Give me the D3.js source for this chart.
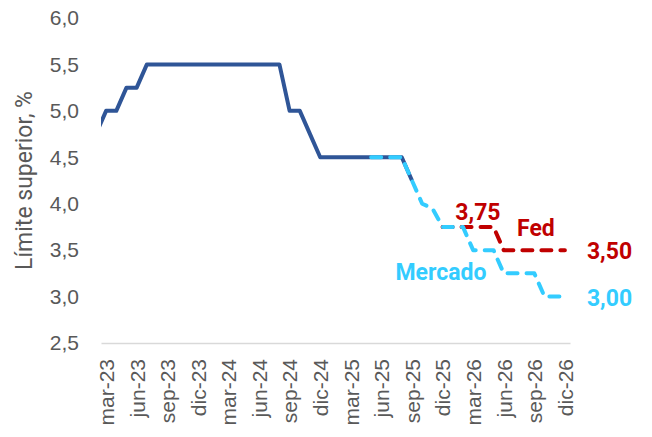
<!DOCTYPE html>
<html>
<head>
<meta charset="utf-8">
<script src="https://cdn.jsdelivr.net/npm/d3@7"></script>
<style>
    body { margin: 0; background: #fff; }
    svg { display: block; font-family: Roboto, "Liberation Sans", sans-serif; }
</style>
</head>
<body>
<div id="chart"></div>
<script>
// monthly categories, feb-23 .. dic-26 (feb-23 sits just left of the axis and is clipped)
const months = [
    "feb-23", "mar-23", "abr-23", "may-23", "jun-23", "jul-23", "ago-23", "sep-23", "oct-23", "nov-23", "dic-23",
    "ene-24", "feb-24", "mar-24", "abr-24", "may-24", "jun-24", "jul-24", "ago-24", "sep-24", "oct-24", "nov-24", "dic-24",
    "ene-25", "feb-25", "mar-25", "abr-25", "may-25", "jun-25", "jul-25", "ago-25", "sep-25", "oct-25", "nov-25", "dic-25",
    "ene-26", "feb-26", "mar-26", "abr-26", "may-26", "jun-26", "jul-26", "ago-26", "sep-26", "oct-26", "nov-26", "dic-26"
];
const tickMonths = ["mar-23", "jun-23", "sep-23", "dic-23", "mar-24", "jun-24", "sep-24", "dic-24",
    "mar-25", "jun-25", "sep-25", "dic-25", "mar-26", "jun-26", "sep-26", "dic-26"];
const yTicks = [2.5, 3.0, 3.5, 4.0, 4.5, 5.0, 5.5, 6.0];

// upper limit of the fed funds range, actual
const actual = [
    4.75, 5.00, 5.00, 5.25, 5.25, 5.50, 5.50, 5.50, 5.50, 5.50, 5.50,
    5.50, 5.50, 5.50, 5.50, 5.50, 5.50, 5.50, 5.50, 5.00, 5.00, 4.75, 4.50,
    4.50, 4.50, 4.50, 4.50, 4.50, 4.50, 4.50, 4.50, 4.25, null, null, null,
    null, null, null, null, null, null, null, null, null, null, null, null
];
// market pricing
const mercado = [
    null, null, null, null, null, null, null, null, null, null, null,
    null, null, null, null, null, null, null, null, null, null, null, null,
    null, null, null, null, 4.50, 4.50, 4.50, 4.50, 4.25, 4.00, 3.95, 3.75,
    3.75, 3.75, 3.50, 3.50, 3.50, 3.25, 3.25, 3.25, 3.25, 3.00, 3.00, 3.00
];
// Fed projection
const fed = [
    null, null, null, null, null, null, null, null, null, null, null,
    null, null, null, null, null, null, null, null, null, null, null, null,
    null, null, null, null, null, null, null, null, null, null, null, 3.75,
    3.75, 3.75, 3.75, 3.75, 3.75, 3.50, 3.50, 3.50, 3.50, 3.50, 3.50, 3.50
];

const width = 652, height = 437;
const plot = { left: 101, right: 570, top: 18, bottom: 343 };

const locale = d3.formatLocale({ decimal: ",", thousands: ".", grouping: [3], currency: ["", "€"] });
const f1 = locale.format(".1f");
const f2 = locale.format(".2f");

const x = d3.scaleLinear()
    .domain([0.5, months.length - 0.5])
    .range([plot.left, plot.right]);

const y = d3.scaleLinear()
    .domain([2.5, 6.0])
    .range([plot.bottom, plot.top]);

const svg = d3.select("#chart").append("svg")
    .attr("width", width)
    .attr("height", height)
    .attr("viewBox", [0, 0, width, height]);

svg.append("clipPath").attr("id", "clip")
    .append("rect")
    .attr("x", plot.left).attr("y", 0)
    .attr("width", plot.right - plot.left).attr("height", height);

// y axis, labels only
const yAxis = svg.append("g")
    .attr("transform", `translate(${plot.left},0)`)
    .call(d3.axisLeft(y).tickValues(yTicks).tickFormat(f1).tickSize(0).tickPadding(22));
yAxis.select(".domain").remove();
yAxis.selectAll("text")
    .attr("fill", "#595959")
    .style("font-size", "21px");

svg.append("text")
    .attr("transform", `translate(24,${(plot.top + plot.bottom) / 2}) rotate(-90)`)
    .attr("text-anchor", "middle")
    .attr("dy", "0.35em")
    .attr("fill", "#595959")
    .style("font-size", "23px")
    .text("Límite superior, %");

// x axis
const xAxis = svg.append("g")
    .attr("transform", `translate(0,${plot.bottom})`)
    .call(d3.axisBottom(x)
        .tickValues(tickMonths.map(m => months.indexOf(m)))
        .tickFormat(i => months[i])
        .tickSize(0)
        .tickSizeOuter(0));
xAxis.select(".domain")
    .attr("stroke", "#d9d9d9")
    .attr("stroke-width", 1.5);
xAxis.selectAll("text")
    .attr("fill", "#595959")
    .style("font-size", "21px")
    .attr("text-anchor", "end")
    .attr("transform", "rotate(-90)")
    .attr("x", -16)
    .attr("y", 0)
    .attr("dy", "0.35em");

const line = d3.line()
    .defined(d => d != null)
    .x((d, i) => x(i))
    .y(d => y(d));

const g = svg.append("g").attr("clip-path", "url(#clip)");

g.append("path")
    .datum(actual)
    .attr("fill", "none")
    .attr("stroke", "#2f5597")
    .attr("stroke-width", 4)
    .attr("stroke-linejoin", "round")
    .attr("d", line);

g.append("path")
    .datum(fed)
    .attr("fill", "none")
    .attr("stroke", "#c00000")
    .attr("stroke-width", 4)
    .attr("stroke-linecap", "round")
    .attr("stroke-linejoin", "round")
    .attr("stroke-dasharray", "10,9")
    .attr("d", line);

g.append("path")
    .datum(mercado)
    .attr("fill", "none")
    .attr("stroke", "#33ccff")
    .attr("stroke-width", 4)
    .attr("stroke-linecap", "round")
    .attr("stroke-linejoin", "round")
    .attr("stroke-dasharray", "10,9")
    .attr("d", line);

// annotations
const last = months.length - 1;
const note = (tx, ty, txt, color, anchor) => svg.append("text")
    .attr("x", tx).attr("y", ty)
    .attr("text-anchor", anchor || "middle")
    .attr("fill", color)
    .style("font-size", "23px")
    .style("font-weight", "bold")
    .text(txt);

note(x(months.indexOf("feb-26")) + 15, y(3.75) - 7, f2(3.75), "#c00000");
note(x(months.indexOf("jul-26")) + 22, y(3.75) + 9, "Fed", "#c00000");
note(x(last) + 22, y(fed[last]) + 9, f2(fed[last]), "#c00000", "start");
note(x(months.indexOf("feb-26")) - 22, y(3.25) + 7, "Mercado", "#33ccff");
note(x(last) + 22, y(mercado[last]) + 9, f2(mercado[last]), "#33ccff", "start");
</script>
</body>
</html>
